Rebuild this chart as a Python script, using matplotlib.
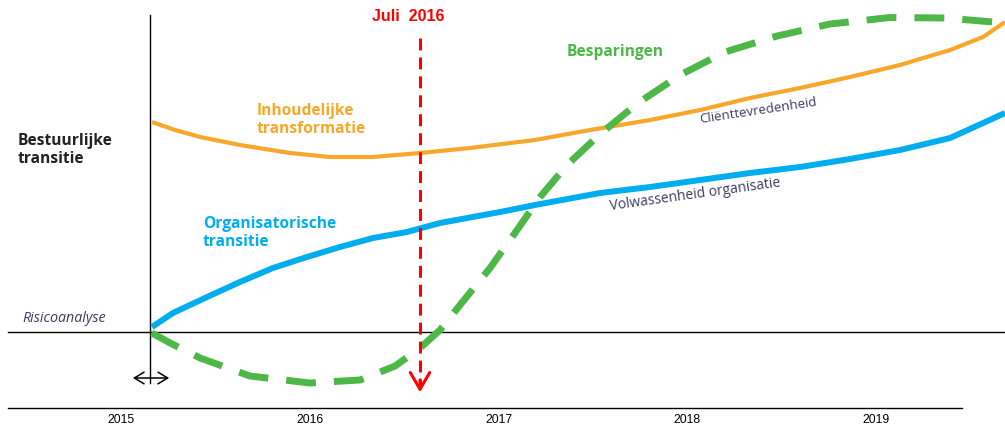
import matplotlib.pyplot as plt

# tick labels
years = [2015, 2016, 2017, 2018, 2019]

# Inhoudelijke transformatie (orange)
orange_x = [2015.164, 2015.286, 2015.419, 2015.630, 2015.895, 2016.107, 2016.335, 2016.584,
            2016.849, 2017.193, 2017.485, 2017.803, 2018.068, 2018.332, 2018.597, 2018.862,
            2019.127, 2019.392, 2019.567, 2019.683]
orange_y = [2.10, 2.02, 1.95, 1.87, 1.79, 1.75, 1.75, 1.79,
            1.84, 1.92, 2.02, 2.12, 2.22, 2.34, 2.44, 2.55,
            2.67, 2.82, 2.95, 3.10]

# Organisatorische transitie (blue)
blue_x = [2015.164, 2015.275, 2015.456, 2015.630, 2015.805, 2015.985, 2016.160, 2016.335,
          2016.515, 2016.690, 2017.008, 2017.193, 2017.538, 2017.803, 2018.068, 2018.332,
          2018.597, 2018.862, 2019.127, 2019.392, 2019.567, 2019.683]
blue_y = [0.05, 0.19, 0.35, 0.50, 0.64, 0.75, 0.85, 0.94,
          1.00, 1.09, 1.20, 1.27, 1.39, 1.45, 1.52, 1.59,
          1.65, 1.73, 1.82, 1.94, 2.09, 2.19]

# Besparingen (green dashed)
green_x = [2015.164, 2015.260, 2015.419, 2015.683, 2016.001, 2016.266, 2016.452, 2016.584,
           2016.690, 2016.796, 2016.955, 2017.087, 2017.220, 2017.363, 2017.538, 2017.739,
           2017.962, 2018.200, 2018.476, 2018.756, 2019.074, 2019.366, 2019.683]
green_y = [-0.01, -0.11, -0.26, -0.44, -0.51, -0.48, -0.34, -0.16,
           0.02, 0.27, 0.64, 0.99, 1.35, 1.67, 1.98, 2.29,
           2.57, 2.80, 2.96, 3.08, 3.145, 3.14, 3.09]

july_2016 = 2016.584

ORANGE = '#F7A82A'
BLUE = '#00AEEF'
GREEN = '#4DB848'
NAVY = '#3b3b63'

fig = plt.figure(figsize=(10.05, 4.28), dpi=100)
ax = fig.add_axes([0, 0, 1, 1])
ax.set_xlim(2014.359, 2019.683)
ax.set_ylim(-0.96, 3.32)
ax.axis('off')

# frame lines
ax.plot([2014.401, 2019.683], [0, 0], color='black', lw=1)
ax.plot([2015.154, 2015.154], [-0.51, 3.17], color='black', lw=1)
ax.plot([2014.401, 2019.456], [-0.76, -0.76], color='black', lw=1)

for y in years:
    ax.text(y, -0.88, str(y), ha='center', va='center', fontsize=8.8, family='Liberation Sans')

# curves
ax.plot(orange_x, orange_y, color=ORANGE, lw=3, solid_capstyle='butt', solid_joinstyle='round')
ax.plot(blue_x, blue_y, color=BLUE, lw=4.3, solid_capstyle='butt', solid_joinstyle='round')
ax.plot(green_x, green_y, color=GREEN, lw=5, dashes=(4.3, 2.6), dash_capstyle='butt')

# Juli 2016 marker
ax.plot([july_2016, july_2016], [2.94, -0.55], color='red', lw=2.2, dashes=(3.9, 2.3))
ax.annotate('', xy=(july_2016, -0.63), xytext=(july_2016, -0.45),
            arrowprops=dict(arrowstyle='->,head_length=0.6,head_width=0.35',
                            color='red', lw=2.2, mutation_scale=20))
ax.text(2016.52, 3.15, 'Juli  2016', color='red', fontsize=11.5, fontweight='bold',
        ha='center', va='center', family='Liberation Sans')

# double arrow at start
ax.annotate('', xy=(2015.048, -0.46), xytext=(2015.270, -0.46),
            arrowprops=dict(arrowstyle='<->,head_length=0.5,head_width=0.3',
                            color='black', lw=1.1, mutation_scale=14))

# labels
bold = dict(fontsize=11.2, fontweight='bold', ha='left', va='center',
            family='Open Sans', linespacing=1.15)
ax.text(2014.455, 1.82, 'Bestuurlijke\ntransitie', color='#222222', **bold)
ax.text(2015.72, 2.12, 'Inhoudelijke\ntransformatie', color=ORANGE, **bold)
ax.text(2015.434, 0.99, 'Organisatorische\ntransitie', color=BLUE, **bold)
ax.text(2017.363, 2.80, 'Besparingen', color=GREEN, **bold)
ax.text(2018.068, 2.09, 'Cliënttevredenheid', color=NAVY, fontsize=9.5,
        ha='left', va='baseline', rotation=8.5, rotation_mode='anchor', family='Open Sans')
ax.text(2017.591, 1.22, 'Volwassenheid organisatie', color=NAVY, fontsize=10,
        ha='left', va='baseline', rotation=7.9, rotation_mode='anchor', family='Open Sans')
ax.text(2014.476, 0.14, 'Risicoanalyse', color=NAVY, fontsize=10.3, style='italic',
        ha='left', va='center', family='Open Sans')

fig.savefig('out.png', dpi=100)
